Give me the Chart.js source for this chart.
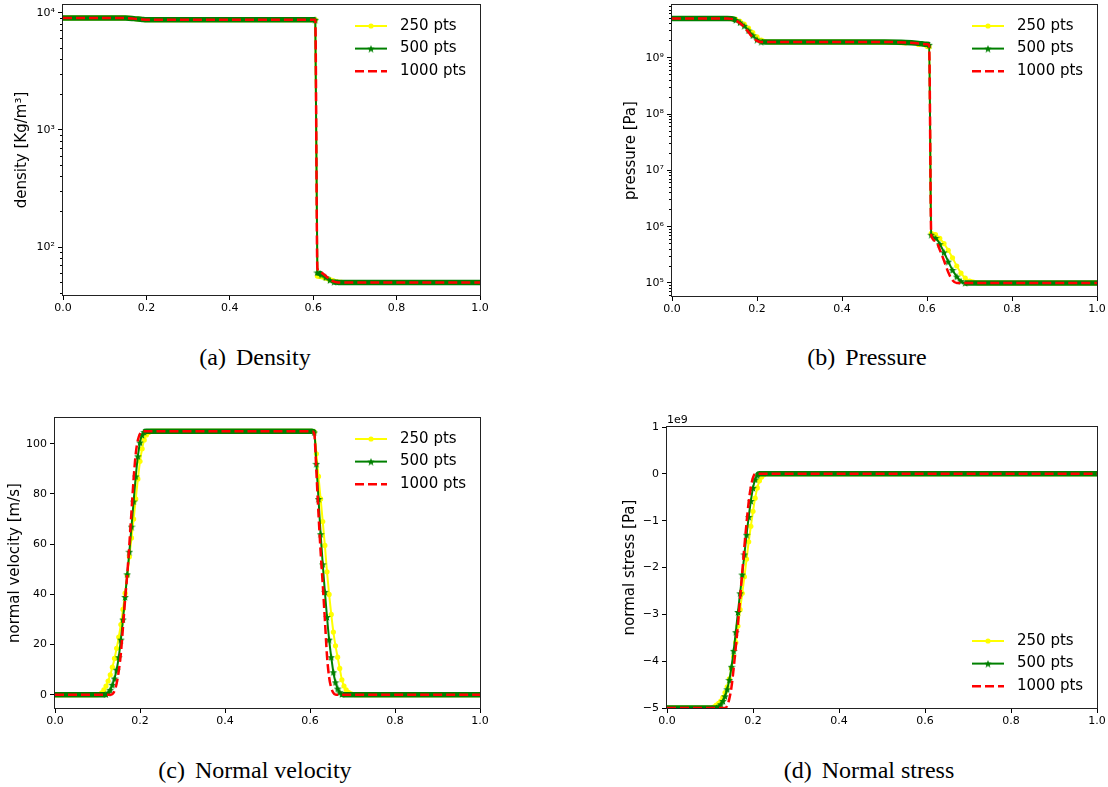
<!DOCTYPE html>
<html lang="en">
<head>
<meta charset="UTF-8">
<meta name="viewport" content="width=device-width, initial-scale=1.0">
<title>Mesh convergence - density, pressure, velocity, stress</title>
<script src="https://cdn.jsdelivr.net/npm/chart.js"></script>
<style>
  body { margin: 0; background: #fff; }
  .page { position: relative; width: 1108px; height: 787px; overflow: hidden; }
  .page canvas { position: absolute; }
  .caption { position: absolute; width: 500px; text-align: center; font-family: "Liberation Serif", serif;
             font-size: 24px; line-height: 24px; color: #000; }
  .caption span { margin-right: 4px; }
</style>
</head>
<body>
<div class="page">
  <canvas id="densChart" width="500" height="320" style="left:0px;top:0px"></canvas>
  <canvas id="presChart" width="508" height="320" style="left:600px;top:0px"></canvas>
  <canvas id="velChart" width="500" height="320" style="left:0px;top:410px"></canvas>
  <canvas id="stressChart" width="508" height="320" style="left:600px;top:410px"></canvas>
  <div class="caption" style="left:5px;top:345px"><span>(a)</span> Density</div>
  <div class="caption" style="left:617px;top:345px"><span>(b)</span> Pressure</div>
  <div class="caption" style="left:5px;top:758px"><span>(c)</span> Normal velocity</div>
  <div class="caption" style="left:619px;top:758px"><span>(d)</span> Normal stress</div>
</div>
<script>
// ---- data ----
const seriesLabels = ['250 pts', '500 pts', '1000 pts'];
const xTicks = [0, 0.2, 0.4, 0.6, 0.8, 1.0];

// (a) density [kg/m3]
const densX = [0, 0.05, 0.1, 0.15, 0.17, 0.19, 0.2, 0.3, 0.4, 0.5, 0.6, 0.605,
               0.61, 0.615, 0.62, 0.63, 0.64, 0.65, 0.66, 0.67, 0.68, 0.7, 0.8, 0.9, 1.0];
const dens250 = [9000, 9000, 9000, 9000, 8900, 8750, 8700, 8700, 8700, 8700, 8700, 8700,
                 57, 56.5, 56, 54.5, 53, 51.5, 50.6, 50.2, 50, 50, 50, 50, 50];
const dens500 = [9000, 9000, 9000, 9000, 8900, 8750, 8700, 8700, 8700, 8700, 8700, 8700,
                 61, 60, 58.5, 55.5, 52.5, 50.8, 50.2, 50, 50, 50, 50, 50, 50];
const dens1000 = [9000, 9000, 9000, 9000, 8900, 8750, 8700, 8700, 8700, 8700, 8700, 8700,
                  66, 63.5, 61, 57, 53, 51, 50.2, 50, 50, 50, 50, 50, 50];
const densTicks = [1e2, 1e3, 1e4];

// (b) pressure [Pa]
const presX = [0, 0.05, 0.1, 0.13, 0.14, 0.15, 0.16, 0.17, 0.18, 0.19, 0.2, 0.21, 0.22, 0.23,
               0.25, 0.3, 0.4, 0.5, 0.55, 0.58, 0.6, 0.605,
               0.61, 0.62, 0.63, 0.64, 0.65, 0.66, 0.67, 0.68, 0.69, 0.7, 0.71, 0.72,
               0.75, 0.8, 0.9, 1.0];
const pres250 = [5e9, 5e9, 5e9, 5e9, 4.95e9, 4.8e9, 4.45e9, 3.95e9, 3.35e9, 2.8e9, 2.35e9, 2.05e9, 1.93e9, 1.9e9,
                 1.9e9, 1.9e9, 1.9e9, 1.89e9, 1.84e9, 1.72e9, 1.6e9, 1.55e9,
                 7.6e5, 7.2e5, 6.2e5, 5.0e5, 3.8e5, 2.8e5, 2.0e5, 1.5e5, 1.22e5, 1.08e5, 1.03e5, 1e5,
                 1e5, 1e5, 1e5, 1e5];
const pres500 = [5e9, 5e9, 5e9, 5e9, 4.95e9, 4.7e9, 4.25e9, 3.7e9, 3.05e9, 2.5e9, 2.1e9, 1.93e9, 1.9e9, 1.9e9,
                 1.9e9, 1.9e9, 1.9e9, 1.9e9, 1.87e9, 1.8e9, 1.73e9, 1.7e9,
                 7.2e5, 6.3e5, 4.9e5, 3.5e5, 2.4e5, 1.7e5, 1.3e5, 1.08e5, 1e5, 1e5, 1e5, 1e5,
                 1e5, 1e5, 1e5, 1e5];
const pres1000 = [5e9, 5e9, 5e9, 5e9, 4.9e9, 4.6e9, 4.1e9, 3.5e9, 2.85e9, 2.3e9, 2.0e9, 1.9e9, 1.9e9, 1.9e9,
                  1.9e9, 1.9e9, 1.9e9, 1.9e9, 1.87e9, 1.8e9, 1.73e9, 1.7e9,
                  7.0e5, 5.6e5, 3.9e5, 2.5e5, 1.55e5, 1.12e5, 1e5, 1e5, 1e5, 1e5, 1e5, 1e5,
                  1e5, 1e5, 1e5, 1e5];
const presTicks = [1e5, 1e6, 1e7, 1e8, 1e9];

// (c) normal velocity [m/s]
const velX = [0, 0.05,
  0.1, 0.105, 0.11, 0.115, 0.12, 0.125, 0.13, 0.135, 0.14, 0.145, 0.15, 0.155, 0.16, 0.165,
  0.17, 0.175, 0.18, 0.185, 0.19, 0.195, 0.2, 0.205, 0.21, 0.215, 0.22, 0.225, 0.23, 0.235,
  0.25, 0.3, 0.4, 0.5,
  0.6, 0.605, 0.61, 0.615, 0.62, 0.625, 0.63, 0.635, 0.64, 0.645, 0.65, 0.655, 0.66, 0.665,
  0.67, 0.675, 0.68, 0.685, 0.69, 0.695, 0.7, 0.705, 0.71,
  0.72, 0.8, 0.9, 1.0];
const vel250 = [0, 0,
  0, 0.2, 0.8, 2, 3.5, 5.5, 8, 11, 14.5, 18.5, 23, 28, 34, 40.5,
  47.5, 55, 62.5, 70, 78, 86, 93, 98, 101.5, 103.5, 104.5, 105, 105, 105,
  105, 105, 105, 105,
  105, 105, 104.7, 96, 87, 78, 69, 59.5, 49, 40, 32, 25, 19.5, 15,
  10.5, 6, 3.5, 2, 1, 0.5, 0.2, 0, 0,
  0, 0, 0, 0];
const vel500 = [0, 0,
  0, 0, 0, 0, 0.2, 0.8, 2, 4, 6.5, 10, 15, 22, 30, 39,
  48, 57, 67, 77, 87, 95, 100.5, 103.5, 104.7, 105, 105, 105, 105, 105,
  105, 105, 105, 105,
  105, 105, 104.5, 92, 78, 64, 52, 41, 31, 22, 15, 9, 5, 2.5,
  1, 0.3, 0, 0, 0, 0, 0, 0, 0,
  0, 0, 0, 0];
const vel1000 = [0, 0,
  0, 0, 0, 0, 0, 0, 0, 0.3, 1.5, 4.5, 9.5, 16.5, 27, 38,
  48, 60, 73, 86, 96, 101.5, 104, 105, 105, 105, 105, 105, 105, 105,
  105, 105, 105, 105,
  105, 105, 104, 89, 72, 57, 44, 30, 15.5, 7, 2.8, 0.8, 0.1, 0,
  0, 0, 0, 0, 0, 0, 0, 0, 0,
  0, 0, 0, 0];
const velTicks = [0, 20, 40, 60, 80, 100];

// (d) normal stress, in units of 1e9 Pa
const stressX = [0, 0.05, 0.09,
  0.1, 0.105, 0.11, 0.115, 0.12, 0.125, 0.13, 0.135, 0.14, 0.145, 0.15, 0.155, 0.16, 0.165,
  0.17, 0.175, 0.18, 0.185, 0.19, 0.195, 0.2, 0.205, 0.21, 0.215, 0.22, 0.225, 0.23, 0.235,
  0.25, 0.3, 0.5, 0.7, 1.0];
const stress250 = [-5, -5, -5,
  -5, -4.99, -4.97, -4.94, -4.9, -4.85, -4.77, -4.67, -4.55, -4.38, -4.15, -3.9, -3.6, -3.25,
  -2.9, -2.55, -2.2, -1.82, -1.45, -1.12, -0.8, -0.52, -0.3, -0.15, -0.07, -0.02, 0, 0,
  0, 0, 0, 0, 0];
const stress500 = [-5, -5, -5,
  -5, -5, -5, -5, -4.97, -4.92, -4.85, -4.75, -4.6, -4.4, -4.12, -3.78, -3.38, -2.95,
  -2.55, -2.15, -1.72, -1.3, -0.92, -0.58, -0.3, -0.12, -0.03, 0, 0, 0, 0, 0,
  0, 0, 0, 0, 0];
const stress1000 = [-5, -5, -5,
  -5, -5, -5, -5, -5, -5, -5, -5, -4.95, -4.8, -4.55, -4.15, -3.7, -3.2,
  -2.65, -2.1, -1.55, -1.05, -0.6, -0.28, -0.08, 0, 0, 0, 0, 0, 0, 0,
  0, 0, 0, 0, 0];
const stressTicks = [-5, -4, -3, -2, -1, 0, 1];

// ---- styling ----
const YELLOW = '#ffff00', GREEN = '#008000', RED = '#ff0000';
const FONT = 'DejaVu Sans';
const SPINE = '#222';

// matplotlib '*' marker: filled five point star
function makeStar(color, size) {
  const c = document.createElement('canvas');
  c.width = c.height = size;
  const g = c.getContext('2d');
  const R = size / 2, r = R * 0.45;
  g.beginPath();
  for (let k = 0; k < 10; k++) {
    const rad = k % 2 ? r : R;
    const a = -Math.PI / 2 + k * Math.PI / 5;
    g.lineTo(R + rad * Math.cos(a), R + 0.4 + rad * Math.sin(a));
  }
  g.closePath();
  g.fillStyle = color;
  g.fill();
  return c;
}
const star = makeStar(GREEN, 8);

function pts(xs, ys) { return xs.map((x, i) => ({ x, y: ys[i] })); }

// markers only where the curve moves; on the flat parts they merge into a band
function markerOn(r) {
  return ctx => {
    if (ctx.type !== 'data') return r;
    const ys = ctx.chart.scales.y, d = ctx.dataset.data, i = ctx.dataIndex;
    const p = ys.getPixelForValue(d[i].y);
    const a = i > 0 ? Math.abs(ys.getPixelForValue(d[i - 1].y) - p) : 0;
    const b = i < d.length - 1 ? Math.abs(ys.getPixelForValue(d[i + 1].y) - p) : 0;
    return Math.max(a, b) >= 1.5 ? r : 0;
  };
}
function bandOr(band, thin) {
  return ctx => Math.abs(ctx.p0.y - ctx.p1.y) < 1.5 ? band : thin;
}

function series(xs, y250, y500, y1000) {
  return [
    { label: seriesLabels[0], data: pts(xs, y250), order: 3, clip: 0,
      borderColor: YELLOW, backgroundColor: YELLOW, borderWidth: 2,
      pointStyle: 'circle', pointRadius: markerOn(2.6), pointBorderWidth: 0, pointBackgroundColor: YELLOW,
      segment: { borderWidth: bandOr(5, 2) } },
    { label: seriesLabels[1], data: pts(xs, y500), order: 2, clip: 0,
      borderColor: GREEN, backgroundColor: GREEN, borderWidth: 2,
      pointStyle: star, pointRadius: markerOn(3),
      segment: { borderWidth: bandOr(5.5, 2) } },
    { label: seriesLabels[2], data: pts(xs, y1000), order: 1, clip: 0,
      borderColor: RED, backgroundColor: RED, borderWidth: 2.5, borderDash: [9, 4], pointRadius: 0 }
  ];
}

const frame = {
  id: 'frame',
  afterDatasetsDraw(chart) {
    const { ctx, chartArea: a } = chart;
    ctx.save();
    ctx.strokeStyle = SPINE;
    ctx.lineWidth = 1;
    ctx.strokeRect(a.left - 0.5, a.top - 0.5, a.right - a.left + 1, a.bottom - a.top + 1);
    ctx.restore();
  }
};

const innerLegend = {
  id: 'innerLegend',
  afterDraw(chart, args, opts) {
    const { ctx, chartArea: a } = chart;
    const x0 = a.right - 125;
    const y0 = opts.anchor === 'bottom' ? a.bottom - 67 : a.top + 21;
    ctx.save();
    chart.data.datasets.forEach((ds, i) => {
      const y = y0 + i * 22.6;
      ctx.beginPath();
      ctx.setLineDash(ds.borderDash || []);
      ctx.lineWidth = ds.borderDash ? 2.5 : 2;
      ctx.strokeStyle = ds.borderColor;
      ctx.moveTo(x0, y);
      ctx.lineTo(x0 + 32, y);
      ctx.stroke();
      ctx.setLineDash([]);
      if (ds.pointStyle instanceof HTMLCanvasElement) {
        ctx.drawImage(ds.pointStyle, x0 + 16 - ds.pointStyle.width / 2, y - ds.pointStyle.height / 2);
      } else if (ds.pointStyle === 'circle') {
        ctx.beginPath();
        ctx.arc(x0 + 16, y, 2.6, 0, Math.PI * 2);
        ctx.fillStyle = ds.borderColor;
        ctx.fill();
      }
      ctx.fillStyle = '#000';
      ctx.font = '15px "' + FONT + '"';
      ctx.textBaseline = 'middle';
      ctx.fillText(ds.label, x0 + 45, y);
    });
    ctx.restore();
  }
};

const offsetText = {
  id: 'offsetText',
  afterDraw(chart, args, opts) {
    if (!opts.text) return;
    const { ctx, chartArea: a } = chart;
    ctx.save();
    ctx.font = '11px "' + FONT + '"';
    ctx.fillStyle = '#000';
    ctx.textBaseline = 'alphabetic';
    ctx.fillText(opts.text, a.left, a.top - 4);
    ctx.restore();
  }
};

const SUP = { '0': '\u2070', '1': '\u00b9', '2': '\u00b2', '3': '\u00b3', '4': '\u2074',
              '5': '\u2075', '6': '\u2076', '7': '\u2077', '8': '\u2078', '9': '\u2079' };
const pow10Label = v => '10' + String(Math.round(Math.log10(v))).split('').map(c => SUP[c]).join('');
const minusLabel = v => v < 0 ? '\u2212' + Math.abs(v) : String(v);

const tickGrid = len => ({ drawOnChartArea: false, drawTicks: true, tickLength: len, tickColor: '#000', tickWidth: 1 });

function xAxis(height) {
  return {
    type: 'linear', min: 0, max: 1,
    afterBuildTicks: s => { s.ticks = xTicks.map(v => ({ value: v })); },
    afterFit: s => { s.height = height; s.paddingLeft = 0; s.paddingRight = 0; },
    grid: tickGrid(5),
    border: { display: false },
    ticks: { color: '#000', font: { family: FONT, size: 11 }, padding: 2, maxRotation: 0, autoSkip: false,
             callback: v => v.toFixed(1) }
  };
}

function yAxis(c) {
  return {
    type: c.type, position: 'left', min: c.min, max: c.max, weight: 1,
    afterBuildTicks: s => { s.ticks = c.ticks.map(v => ({ value: v })); },
    afterFit: s => { s.width = c.width; s.paddingTop = 0; s.paddingBottom = 0; },
    grid: tickGrid(5),
    border: { display: false },
    ticks: { color: '#000', font: { family: FONT, size: 11 }, padding: 3, autoSkip: false, callback: c.label },
    title: { display: true, text: c.title, color: '#000', font: { family: FONT, size: 15 },
             padding: { top: c.titlePad, bottom: 0 } }
  };
}

// short ticks at 2..9 x 10^n on the log axes
function minorAxis(min, max) {
  return {
    type: 'logarithmic', position: 'left', min, max, weight: 0,
    afterBuildTicks: s => {
      s.ticks = s.ticks.filter(t => {
        const e = Math.floor(Math.log10(t.value) + 1e-9);
        const m = t.value / Math.pow(10, e);
        return Math.abs(m - Math.round(m)) < 1e-6 && Math.round(m) > 1;
      });
    },
    afterFit: s => { s.width = 0; s.paddingTop = 0; s.paddingBottom = 0; },
    grid: tickGrid(3),
    border: { display: false },
    ticks: { display: false }
  };
}

function makeChart(id, p) {
  const scales = { x: xAxis(p.xHeight), y: yAxis(p.y) };
  if (p.minor) scales.yMinor = minorAxis(p.y.min, p.y.max);
  return new Chart(document.getElementById(id), {
    type: 'line',
    data: { datasets: p.datasets },
    options: {
      responsive: false, animation: false, devicePixelRatio: 1, events: [],
      layout: { padding: { left: 0, top: p.top, right: p.right, bottom: 0 } },
      elements: { line: { cubicInterpolationMode: 'monotone' } },
      plugins: { legend: { display: false }, tooltip: { enabled: false },
                 innerLegend: { anchor: p.legend }, offsetText: { text: p.offset || '' } },
      scales
    },
    plugins: [frame, innerLegend, offsetText]
  });
}

makeChart('densChart', {
  datasets: series(densX, dens250, dens500, dens1000),
  top: 5, right: 20, xHeight: 25, legend: 'top', minor: true,
  y: { type: 'logarithmic', min: 39.2, max: 11630, ticks: densTicks, label: pow10Label,
       width: 63, title: 'density [Kg/m\u00b3]', titlePad: 13 }
});
makeChart('presChart', {
  datasets: series(presX, pres250, pres500, pres1000),
  top: 5, right: 11, xHeight: 24, legend: 'top', minor: true,
  y: { type: 'logarithmic', min: 5.87e4, max: 8.65e9, ticks: presTicks, label: pow10Label,
       width: 72, title: 'pressure [Pa]', titlePad: 22 }
});
makeChart('velChart', {
  datasets: series(velX, vel250, vel500, vel1000),
  top: 8, right: 20, xHeight: 22, legend: 'top',
  y: { type: 'linear', min: -5.25, max: 110.25, ticks: velTicks, label: v => String(v),
       width: 55, title: 'normal velocity [m/s]', titlePad: 6 }
});
makeChart('stressChart', {
  datasets: series(stressX, stress250, stress500, stress1000),
  top: 17, right: 11, xHeight: 22, legend: 'bottom', offset: '1e9',
  y: { type: 'linear', min: -5, max: 1, ticks: stressTicks, label: minusLabel,
       width: 67, title: 'normal stress [Pa]', titlePad: 21 }
});
</script>
</body>
</html>
